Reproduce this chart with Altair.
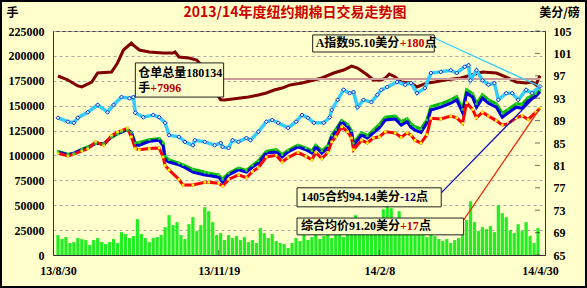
import altair as alt
import pandas as pd

FONT = "Liberation Serif, 'Noto Sans CJK SC'"
CJK = "'Noto Sans CJK SC'"

TITLE = "2013/14年度纽约期棉日交易走势图"

# x positions are day offsets from 2013-08-30 (0) to 2014-04-30 (243)
x_tick_days = [0, 81, 162, 243]
x_tick_labels = ["13/8/30", "13/11/19", "14/2/8", "14/4/30"]
left_ticks = [0, 25000, 50000, 75000, 100000, 125000, 150000, 175000, 200000, 225000]
right_ticks = [65, 69, 73, 77, 81, 85, 89, 93, 97, 101, 105]

# Daily volume (手), left axis
vol_days = list(range(0, 243, 2))
vol_vals = [20000, 16000, 18000, 12000, 13000, 17000, 16000, 15000, 10000, 15000,
            17000, 13000, 11000, 13000, 16000, 12000, 23000, 21000, 17000, 19000,
            36000, 21000, 17000, 13000, 17000, 18000, 20000, 28000, 40000, 30000,
            33000, 20000, 16000, 31000, 38000, 24000, 30000, 48000, 44000, 33000,
            20000, 22000, 15000, 20000, 17000, 19000, 15000, 18000, 13000, 15000,
            12000, 27000, 22000, 17000, 21000, 14000, 12000, 11000, 7000, 12000,
            17000, 14000, 20000, 15000, 18000, 22000, 16000, 19000, 24000, 17000,
            20000, 23000, 18000, 26000, 30000, 40000, 33000, 24000, 28000, 22000,
            30000, 25000, 46000, 49000, 47000, 30000, 44000, 26000, 22000, 25000,
            20000, 24000, 21000, 18000, 23000, 19000, 16000, 14000, 16000, 12000,
            15000, 17000, 22000, 35000, 54000, 33000, 24000, 28000, 26000, 29000,
            23000, 50000, 42000, 38000, 25000, 22000, 31000, 24000, 33000, 19000,
            12000, 27000]

# 仓单总量 (手), left axis
m_days = [0, 5, 10, 12, 17, 20, 27, 30, 33, 37, 38, 41, 46, 53, 58, 59, 61, 66, 70, 73,
          76, 80, 82, 84, 92, 96, 101, 105, 109, 113, 117, 123, 133, 139, 144, 148, 151, 156, 159, 163,
          165, 167, 170, 173, 178, 181, 186, 190, 195, 203, 214, 221, 226, 231, 236, 239, 241, 242, 243]
m_vals = [179800, 175800, 169800, 168800, 173800, 182800, 183800, 192900, 205900, 212900,
          210900, 205900, 203900, 202900, 202900, 203900, 198900, 197900, 195900, 188800,
          175000, 162000, 156000, 155700, 157700, 158700, 160700, 162700, 165700, 167700,
          170800, 172800, 177800, 182800, 185800, 189800, 187800, 180800, 175800, 175800,
          177800, 181800, 178800, 173800, 172800, 168800, 172800, 173800, 175800, 177800,
          183800, 182800, 178800, 173800, 172800, 173800, 170800, 175800, 180134]
m_ref_level = 176800

# A指数 (美分/磅), right axis
a_days = [0, 5, 8, 10, 15, 20, 25, 28, 32, 36, 38, 39, 43, 48, 51, 54, 56, 61, 64, 68,
          69, 74, 79, 82, 83, 86, 88, 91, 95, 97, 101, 105, 108, 111, 116, 120, 123, 126, 129, 134,
          137, 138, 141, 144, 147, 149, 151, 154, 158, 161, 163, 166, 171, 175, 178, 181, 185, 188, 193, 198,
          201, 205, 207, 208, 211, 214, 217, 220, 222, 226, 229, 232, 236, 239, 243]
a_vals = [89.5, 88.8, 88.6, 89.5, 90.5, 91.8, 90.5, 91.8, 93.2, 93.0,
          93.2, 90.4, 89.6, 90.0, 89.6, 88.6, 86.4, 86.1, 85.2, 84.6,
          85.5, 85.2, 84.6, 85.0, 84.3, 84.1, 85.5, 85.2, 85.9, 85.5,
          87.0, 88.8, 89.1, 88.6, 87.7, 88.8, 90.0, 89.5, 88.6, 88.6,
          89.6, 90.9, 92.7, 94.5, 93.9, 94.1, 91.4, 92.7, 92.3, 93.6,
          94.5, 95.0, 95.9, 95.4, 95.7, 93.9, 94.8, 97.5, 97.7, 98.0,
          97.5, 98.6, 98.9, 96.2, 98.0, 96.2, 95.4, 95.7, 92.7, 93.9,
          93.9, 92.7, 94.5, 93.9, 95.1]

# futures price lines (美分/磅), right axis
p_days = [0, 5, 8, 12, 15, 19, 23, 27, 30, 32, 35, 37, 39, 41, 46, 51, 53, 54, 56, 61,
          63, 68, 74, 76, 81, 83, 86, 91, 95, 98, 101, 105, 110, 113, 116, 121, 125, 128, 130, 133,
          136, 138, 140, 143, 146, 148, 149, 153, 156, 159, 162, 165, 170, 173, 176, 178, 180, 183, 186, 188,
          193, 198, 201, 204, 206, 209, 211, 214, 217, 221, 224, 227, 231, 234, 237, 241, 243]
c1405_vals = [83.4, 82.9, 83.2, 83.8, 84.1, 85.0, 84.8, 86.1, 86.8, 86.9,
              87.5, 86.8, 84.6, 84.6, 85.3, 85.5, 84.5, 82.0, 81.6, 81.1,
              80.8, 79.8, 79.3, 79.2, 78.9, 78.0, 79.3, 80.2, 79.8, 80.7,
              81.4, 83.2, 83.4, 82.5, 83.4, 84.3, 83.8, 83.2, 84.3, 83.2,
              84.1, 86.1, 87.0, 88.8, 87.9, 86.8, 84.6, 86.4, 85.9, 86.8,
              87.7, 89.1, 89.3, 88.2, 88.8, 87.8, 87.3, 86.9, 88.6, 90.9,
              91.4, 92.1, 92.7, 90.4, 93.9, 93.2, 91.4, 93.0, 92.1, 91.4,
              89.6, 90.4, 91.4, 91.2, 92.5, 93.4, 94.14]
avg_vals = [83.2, 82.7, 83.0, 83.6, 84.0, 85.2, 84.6, 86.3, 86.9, 87.2,
            87.6, 86.1, 84.0, 83.8, 84.0, 84.1, 82.5, 81.0, 80.2, 78.5,
            77.5, 77.5, 78.0, 78.0, 77.8, 77.3, 78.5, 79.3, 78.8, 79.9,
            80.6, 82.5, 82.8, 81.6, 82.4, 83.3, 82.6, 82.0, 83.3, 82.2,
            83.3, 85.2, 86.1, 87.9, 87.0, 85.9, 83.8, 85.5, 85.0, 85.9,
            86.1, 87.0, 86.8, 86.0, 86.8, 86.4, 85.5, 85.0, 86.5, 89.4,
            89.3, 89.8, 89.5, 88.5, 92.2, 91.0, 89.5, 90.5, 89.8, 89.0,
            88.2, 88.5, 89.5, 89.9, 89.2, 90.5, 91.2]
green_vals = [83.5, 83.0, 83.1, 83.9, 84.3, 84.9, 84.9, 86.0, 86.6, 87.0,
              87.3, 86.9, 85.0, 85.1, 85.6, 85.8, 85.0, 82.6, 82.0, 81.4,
              81.1, 80.3, 79.8, 79.6, 79.3, 78.5, 79.6, 80.5, 80.1, 81.0,
              81.8, 83.5, 83.8, 82.9, 83.7, 84.6, 84.1, 83.6, 84.6, 83.6,
              84.5, 86.4, 87.4, 89.0, 88.3, 87.2, 85.0, 86.8, 86.3, 87.3,
              88.3, 89.6, 89.8, 88.8, 89.3, 88.4, 87.9, 87.5, 89.1, 91.5,
              92.0, 92.7, 93.3, 91.0, 94.5, 93.8, 92.0, 93.6, 92.7, 92.0,
              90.3, 91.0, 92.0, 91.9, 93.1, 93.8, 94.4]

vol_df = pd.DataFrame({"d": vol_days, "v": vol_vals})
m_df = pd.DataFrame({"d": m_days, "v": m_vals})
a_df = pd.DataFrame({"d": a_days, "v": a_vals})
b_df = pd.DataFrame({"d": p_days, "v": c1405_vals})
r_df = pd.DataFrame({"d": p_days, "v": avg_vals})
g_df = pd.DataFrame({"d": p_days, "v": green_vals})

label_expr = " : ".join(
    f"datum.value == {d} ? '{t}'" for d, t in zip(x_tick_days, x_tick_labels)
) + " : ''"

x_scale = alt.Scale(domain=[0, 243], nice=False, zero=False)
yl_scale = alt.Scale(domain=[0, 225000], nice=False, zero=True)
yr_scale = alt.Scale(domain=[65, 105], nice=False, zero=False)

x_axis = alt.Axis(values=x_tick_days, labelExpr=label_expr, grid=False, tickSize=0,
                  labelPadding=10, labelFlush=False, labelFont=FONT, labelFontSize=12,
                  labelFontWeight="bold", labelColor="black", domainColor="#333333", title=None)
left_axis = alt.Axis(values=left_ticks, grid=True, gridDash=[3, 3], gridColor="#A8A8A8",
                     tickSize=0, labelPadding=9, labelFont=FONT, labelFontSize=12,
                     labelFontWeight="bold", labelColor="black", domainColor="#333333",
                     format="d", title="手", titleAngle=0, titleX=-41, titleY=-19,
                     titleAlign="center", titleBaseline="middle", titleFont=CJK,
                     titleFontSize=12, titleFontWeight="bold", titleColor="black")
right_axis = alt.Axis(orient="right", values=right_ticks, grid=False, tickSize=0,
                      labelPadding=8, labelFont=FONT, labelFontSize=12,
                      labelFontWeight="bold", labelColor="black", domainColor="#333333",
                      title="美分/磅", titleAngle=0, titleX=14, titleY=-19,
                      titleAlign="center", titleBaseline="middle", titleFont=CJK,
                      titleFontSize=12, titleFontWeight="bold", titleColor="black")


def X(field="d"):
    return alt.X(f"{field}:Q", scale=x_scale, axis=x_axis)


def YL(field="v"):
    return alt.Y(f"{field}:Q", scale=yl_scale, axis=left_axis)


def YR(field="v"):
    return alt.Y(f"{field}:Q", scale=yr_scale, axis=right_axis)


# ---- left-axis group
bars = alt.Chart(vol_df).mark_bar(color="#22EE22", width=3.2).encode(x=X(), y=YL())
maroon = alt.Chart(m_df).mark_line(color="#800000", strokeWidth=3).encode(x=X(), y=YL())
pink = alt.Chart(pd.DataFrame({"d": [83.5], "d2": [243], "v": [m_ref_level]})).mark_rule(
    color="#CC9999", strokeWidth=2).encode(x=X(), x2="d2:Q", y=YL())
left = alt.layer(bars, maroon, pink)

# ---- right-axis group
green_line = alt.Chart(g_df).mark_line(color="#00BB00", strokeWidth=3).encode(x=X(), y=YR())
blue_line = alt.Chart(b_df).mark_line(color="#0000DD", strokeWidth=3).encode(x=X(), y=YR())
red_line = alt.Chart(r_df).mark_line(color="#FF0000", strokeWidth=3).encode(x=X(), y=YR())
yellow_pts = alt.Chart(r_df).mark_point(shape="square", filled=True, size=7, color="#FFFF00",
                                        opacity=1).encode(x=X(), y=YR())
green_pts = alt.Chart(g_df).mark_point(shape="square", filled=True, size=6, color="#33CC33",
                                       opacity=1).encode(x=X(), y=YR())
cyan_line = alt.Chart(a_df).mark_line(color="#33CCFF", strokeWidth=3.5).encode(x=X(), y=YR())
cyan_pts = alt.Chart(a_df).mark_point(shape="diamond", filled=True, size=16, fill="#E0F4FF",
                                      stroke="#1030D0", strokeWidth=1, opacity=1).encode(x=X(), y=YR())

# small inward tick marks on the right and bottom axes
rt_df = pd.DataFrame({"d": [243] * len(right_ticks), "v": right_ticks})
right_tick_marks = alt.Chart(rt_df).mark_tick(
    orient="horizontal", size=5, thickness=1, color="#333333", xOffset=-2.5).encode(x=X(), y=YR())
bt_df = pd.DataFrame({"d": x_tick_days[1:3], "v": [65, 65]})
bottom_tick_marks = alt.Chart(bt_df).mark_tick(
    orient="vertical", size=5, thickness=1, color="#333333", yOffset=-2.5).encode(x=X(), y=YR())

conn_df = pd.DataFrame({
    "d": [189.7, 193.2, 204.5], "v": [103.75, 76.1, 71.25],
    "d2": [243, 243, 243], "v2": [95.1, 94.14, 91.2],
    "c": ["#33CCFF", "#1010C0", "#EE2200"]})
connectors = alt.Chart(conn_df).mark_rule(strokeWidth=1.3).encode(
    x=X(), x2="d2:Q", y=YR(), y2="v2:Q", color=alt.Color("c:N", scale=None))

box_df = pd.DataFrame({
    "d": [39.0, 128.4, 120.5, 120.5], "d2": [83.5, 189.7, 193.2, 204.5],
    "v": [93.2, 101.25, 73.6, 68.6], "v2": [99.3, 104.3, 77.0, 71.6]})
boxes = alt.Chart(box_df).mark_rect(fill="#FFFFCC", stroke="#202020", strokeWidth=1).encode(
    x=X(), x2="d2:Q", y=YR(), y2="v2:Q")


def label(d, v, txt, color, dx=0):
    return alt.Chart(pd.DataFrame({"d": [d], "v": [v], "t": [txt]})).mark_text(
        align="left", baseline="middle", dx=dx, font=FONT, fontSize=12, fontWeight="bold",
        color=color).encode(x=X(), y=YR(), text="t:N")


texts = [
    label(40.5, 97.5, "仓单总量180134", "black"),
    label(40.5, 94.8, "手", "black"),
    label(40.5, 94.8, "+7996", "#B00000", dx=12),
    label(129.9, 102.8, "A指数95.10美分", "black"),
    label(129.9, 102.8, "+180", "#CC0000", dx=84),
    label(129.9, 102.8, "点", "black", dx=109),
    label(122.5, 75.3, "1405合约94.14美分", "black"),
    label(122.5, 75.3, "-12", "#000080", dx=99),
    label(122.5, 75.3, "点", "black", dx=115),
    label(122.5, 70.1, "综合均价91.20美分", "black"),
    label(122.5, 70.1, "+17", "#CC0000", dx=99),
    label(122.5, 70.1, "点", "black", dx=118),
]

decor = pd.DataFrame({"t": [TITLE]})
title_mark = alt.Chart(decor).mark_text(
    font=CJK, fontSize=14, fontWeight="bold", color="#CC0000", align="center",
    baseline="middle").encode(x=alt.value(242), y=alt.value(-18), text="t:N")
frame = alt.Chart(decor).mark_rect(
    fill=None, stroke="black", strokeWidth=2).encode(
    x=alt.value(-52), x2=alt.value(533), y=alt.value(-30), y2=alt.value(256))

right = alt.layer(green_line, blue_line, red_line, yellow_pts, green_pts,
                  cyan_line, cyan_pts, right_tick_marks, bottom_tick_marks,
                  connectors, boxes, *texts)

chart = alt.layer(left, right, title_mark, frame).resolve_scale(y="independent").properties(
    width=492, height=224, autosize="none",
    padding={"left": 53, "top": 31, "right": 42, "bottom": 33},
    background="#FFFFCC",
).configure_view(stroke="#404040", strokeWidth=1, fill="#FFFFCC")

chart.save("out.html", embed_options={"renderer": "svg", "actions": False})
